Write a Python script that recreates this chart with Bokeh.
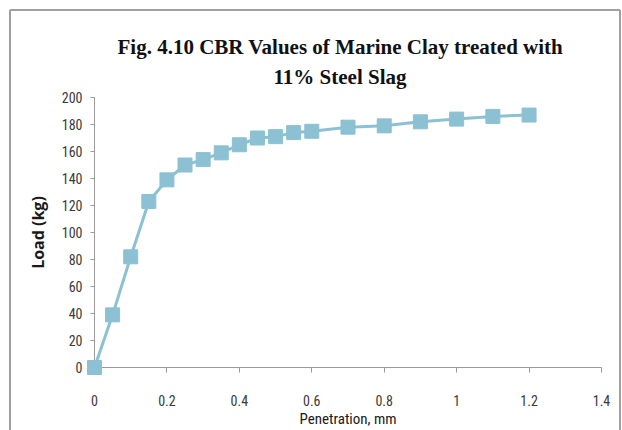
from bokeh.plotting import figure
from bokeh.models import Range1d, Title, FixedTicker
from bokeh.embed import file_html
from bokeh.resources import INLINE

penetration = [0, 0.05, 0.1, 0.15, 0.2, 0.25, 0.3, 0.35, 0.4, 0.45, 0.5, 0.55, 0.6,
               0.7, 0.8, 0.9, 1.0, 1.1, 1.2]
load = [0, 39, 82, 123, 139, 150, 154, 159, 165, 170, 171, 174, 175,
        178, 179, 182, 184, 186, 187]
x_ticks = [0, 0.2, 0.4, 0.6, 0.8, 1.0, 1.2, 1.4]
x_tick_labels = {0: "0", 0.2: "0.2", 0.4: "0.4", 0.6: "0.6", 0.8: "0.8", 1.0: "1", 1.2: "1.2", 1.4: "1.4"}
y_ticks = list(range(0, 201, 20))
title_line1 = "Fig. 4.10 CBR Values of Marine Clay treated with"
title_line2 = "11% Steel Slag"

NARROW = "Liberation Sans Narrow, Roboto Condensed, Arial Narrow, sans-serif"
COL = "#8cc0d3"
BORDER = "#a0a0a0"

p = figure(width=622, height=430, output_backend="svg", toolbar_location=None,
           x_range=Range1d(0, 1.4), y_range=Range1d(0, 200),
           min_border_left=94, min_border_right=21, min_border_top=97, min_border_bottom=63)
p.outline_line_color = None
p.grid.visible = False
p.background_fill_color = "white"
p.border_fill_color = None
p.styles = {
    "background-color": "white",
    "background-image": ", ".join([f"linear-gradient({BORDER}, {BORDER})"] * 3),
    "background-size": "610px 2px, 2px 430px, 2px 430px",
    "background-position": "10px 9px, 9px 10px, 619px 10px",
    "background-repeat": "no-repeat",
}

p.line(penetration, load, line_color=COL, line_width=3, level="overlay")
p.scatter(penetration, load, marker="square", size=14, fill_color=COL, line_color=COL,
          level="overlay")

xa = p.xaxis[0]
xa.ticker = FixedTicker(ticks=x_ticks)
xa.major_label_overrides = x_tick_labels
xa.minor_tick_line_color = None
xa.major_tick_in = 0
xa.major_tick_out = 5
xa.axis_line_color = "#9a9a9a"
xa.major_tick_line_color = "#9a9a9a"
xa.major_label_standoff = 22
xa.major_label_text_font = NARROW
xa.major_label_text_font_size = "14px"
xa.major_label_text_color = "#3a3a3a"
xa.axis_label = "Penetration, mm"
xa.axis_label_standoff = 1
xa.axis_label_text_font = NARROW
xa.axis_label_text_font_size = "15px"
xa.axis_label_text_font_style = "normal"
xa.axis_label_text_color = "#1a1a1a"

ya = p.yaxis[0]
ya.ticker = FixedTicker(ticks=y_ticks)
ya.minor_tick_line_color = None
ya.major_tick_in = 0
ya.major_tick_out = 4
ya.axis_line_color = "#9a9a9a"
ya.major_tick_line_color = "#9a9a9a"
ya.major_label_standoff = 8
ya.major_label_text_font = NARROW
ya.major_label_text_font_size = "14px"
ya.major_label_text_color = "#3a3a3a"
ya.axis_label = "Load (kg)"
ya.axis_label_standoff = 10
ya.axis_label_text_font = "Open Sans"
ya.axis_label_text_font_size = "16px"
ya.axis_label_text_font_style = "bold"
ya.axis_label_text_color = "#1a1a1a"

p.add_layout(Title(text=title_line2, align="left", offset=179, standoff=18,
                   text_font="Liberation Serif", text_font_size="21px",
                   text_font_style="bold", text_color="#111111"), "above")
p.add_layout(Title(text=title_line1, align="left", offset=23, standoff=-10,
                   text_font="Liberation Serif", text_font_size="21px",
                   text_font_style="bold", text_color="#111111"), "above")

open("out.html", "w").write(file_html(p, INLINE))
